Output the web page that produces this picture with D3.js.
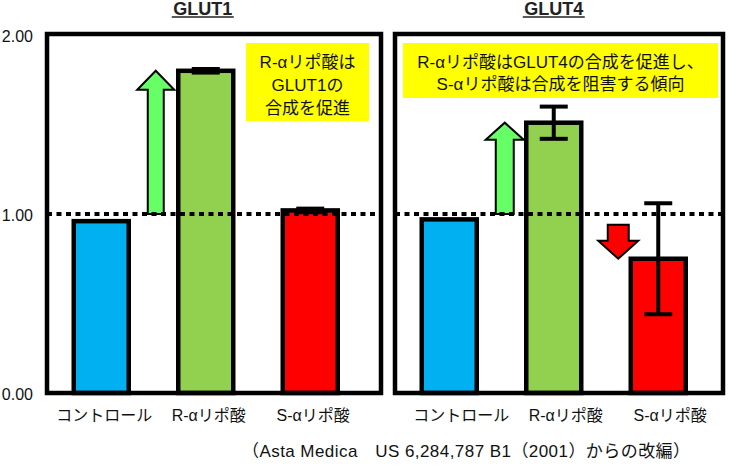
<!DOCTYPE html>
<html><head><meta charset="utf-8">
<script src="https://cdn.jsdelivr.net/npm/d3@7"></script>
<style>
html,body{margin:0;padding:0;background:#fff;}
svg{display:block;font-family:"Liberation Sans",Arial,"Noto Sans CJK JP",sans-serif;}
</style></head>
<body>
<svg id="chart" width="730" height="466"></svg>
<script>
// ---- data ----
const categories = ["コントロール", "R-αリポ酸", "S-αリポ酸"];
const panelTitles = ["GLUT1", "GLUT4"];
const glut1Values = [0.96, 1.80, 1.02];
const glut1Errors = [0, 0.01, 0.01];
const glut4Values = [0.97, 1.51, 0.75];
const glut4Errors = [0, 0.09, 0.31];
const yTicks = [0, 1, 2];
const referenceLevel = 1;
const glut1Note = ["R-αリポ酸は", "GLUT1の", "合成を促進"];
const glut4Note = ["R-αリポ酸はGLUT4の合成を促進し、", "S-αリポ酸は合成を阻害する傾向"];
const glut1Arrows = [{cat: "R-αリポ酸", from: 1.0, to: 1.80, dir: "up"}];
const glut4Arrows = [{cat: "R-αリポ酸", from: 1.0, to: 1.51, dir: "up"},
                     {cat: "S-αリポ酸", from: 0.94, to: 0.75, dir: "down"}];
const sourceNote = "（Asta Medica　US 6,284,787 B1（2001）からの改編）";

// ---- styles / layout ----
const barColors = ["#00B0F0", "#92D050", "#FF0000"];
const svg = d3.select("#chart");
const frameTop = 34, frameBottom = 393;
const y = d3.scaleLinear().domain([0, 2]).range([frameBottom, 35]);

const panels = [
  {title: panelTitles[0], values: glut1Values, errors: glut1Errors, note: glut1Note, arrows: glut1Arrows,
   x0: 47, x1: 381, labelShift: 3, titleShift: -3,
   box: {x: 246, y: 43, w: 123, h: 78}, noteCx: 307.5, noteBase: 67.5, lineH: 23,
   arrowStyle: {dx: -50, sw: 16, hw: 37, hl: 19}},
  {title: panelTitles[1], values: glut4Values, errors: glut4Errors, note: glut4Note, arrows: glut4Arrows,
   x0: 395, x1: 723, labelShift: 12, titleShift: 0,
   box: {x: 403, y: 43, w: 315, h: 55}, noteCx: 560.5, noteBase: 67.5, lineH: 22,
   arrowStyle: {dx: -49, sw: 18, hw: 38, hl: 17}}
];

function arrowPath(cx, yTail, yTip, sw, hw, hl) {
  const dir = yTip > yTail ? 1 : -1;
  const base = yTip - dir * hl;
  return `M${cx - sw/2},${yTail} L${cx - sw/2},${base} L${cx - hw/2},${base} L${cx},${yTip} ` +
         `L${cx + hw/2},${base} L${cx + sw/2},${base} L${cx + sw/2},${yTail} Z`;
}

panels.forEach((p, pi) => {
  const g = svg.append("g");
  const x = d3.scaleBand().domain(categories).range([p.x0 + 2, p.x0 + 2 + 313.5]).padding(0);
  const bw = 55;
  const cxOf = c => x(c) + x.bandwidth() / 2;
  const rows = categories.map((c, i) => ({c, v: p.values[i], e: p.errors[i], color: barColors[i]}));

  // title
  const tx = cxOf(categories[1]) + p.titleShift;
  g.append("text").attr("x", tx).attr("y", 15).attr("text-anchor", "middle")
    .attr("font-size", 18).attr("font-weight", "bold").attr("fill", "#222").text(p.title);
  g.append("line").attr("x1", tx - 31).attr("x2", tx + 31).attr("y1", 17).attr("y2", 17)
    .attr("stroke", "#222").attr("stroke-width", 1.5);

  // note box
  g.append("rect").attr("x", p.box.x).attr("y", p.box.y).attr("width", p.box.w).attr("height", p.box.h)
    .attr("fill", "#FFFF00");
  g.selectAll("text.note").data(p.note).join("text").attr("class", "note")
    .attr("x", p.noteCx).attr("y", (d, i) => p.noteBase + i * p.lineH)
    .attr("text-anchor", "middle").attr("font-size", 17).attr("fill", "#111").text(d => d);

  // arrows
  p.arrows.forEach(a => {
    const isDown = a.dir === "down";
    const st = isDown ? {dx: -40, sw: 21, hw: 40, hl: 18} : p.arrowStyle;
    g.append("path")
      .attr("d", arrowPath(cxOf(a.cat) + st.dx, y(a.from), y(a.to), st.sw, st.hw, st.hl))
      .attr("fill", isDown ? "#FF0000" : "#66FF66").attr("stroke", "#000").attr("stroke-width", 2)
      .attr("stroke-linejoin", "miter");
  });

  // bars
  g.selectAll("rect.bar").data(rows).join("rect").attr("class", "bar")
    .attr("x", d => cxOf(d.c) - bw / 2).attr("width", bw)
    .attr("y", d => y(d.v)).attr("height", d => y(0) - y(d.v))
    .attr("fill", d => d.color).attr("stroke", "#000").attr("stroke-width", 4.5);

  // reference dotted line
  g.append("line").attr("x1", p.x0).attr("x2", p.x1)
    .attr("y1", y(referenceLevel)).attr("y2", y(referenceLevel))
    .attr("stroke", "#000").attr("stroke-width", 4).attr("stroke-dasharray", "5,4.5");

  // error bars
  const eb = rows.filter(d => d.e > 0);
  g.selectAll("line.ev").data(eb).join("line").attr("class", "ev")
    .attr("x1", d => cxOf(d.c)).attr("x2", d => cxOf(d.c))
    .attr("y1", d => y(d.v - d.e)).attr("y2", d => y(d.v + d.e))
    .attr("stroke", "#000").attr("stroke-width", 4);
  [1, -1].forEach(s => {
    g.selectAll("line.cap" + (s > 0 ? "u" : "l")).data(eb).join("line").attr("class", "cap" + (s > 0 ? "u" : "l"))
      .attr("x1", d => cxOf(d.c) - 14).attr("x2", d => cxOf(d.c) + 14)
      .attr("y1", d => y(d.v + s * d.e)).attr("y2", d => y(d.v + s * d.e))
      .attr("stroke", "#000").attr("stroke-width", 4);
  });

  // frame
  g.append("rect").attr("x", p.x0).attr("y", frameTop).attr("width", p.x1 - p.x0).attr("height", frameBottom - frameTop)
    .attr("fill", "none").attr("stroke", "#000").attr("stroke-width", 4.5);

  // category labels
  g.selectAll("text.cat").data(categories).join("text").attr("class", "cat")
    .attr("x", c => cxOf(c) + p.labelShift).attr("y", 421).attr("text-anchor", "middle")
    .attr("font-size", 16).attr("fill", "#111").text(c => c);

  // y axis (left panel only)
  if (pi === 0) {
    const ax = g.append("g").attr("transform", `translate(${p.x0},0)`)
      .call(d3.axisLeft(y).tickValues(yTicks).tickSize(0).tickPadding(14).tickFormat(d3.format(".2f")));
    ax.select(".domain").remove();
    ax.selectAll("text").attr("font-size", 16).attr("fill", "#111")
      .attr("font-family", "'Liberation Sans', Arial, sans-serif").attr("dy", "0.42em");
  }
});

svg.append("text").attr("x", 242).attr("y", 457).attr("font-size", 17).attr("fill", "#111")
  .attr("textLength", 448).attr("lengthAdjust", "spacing")
  .attr("xml:space", "preserve").style("white-space", "pre").text(sourceNote);
</script>
</body></html>
